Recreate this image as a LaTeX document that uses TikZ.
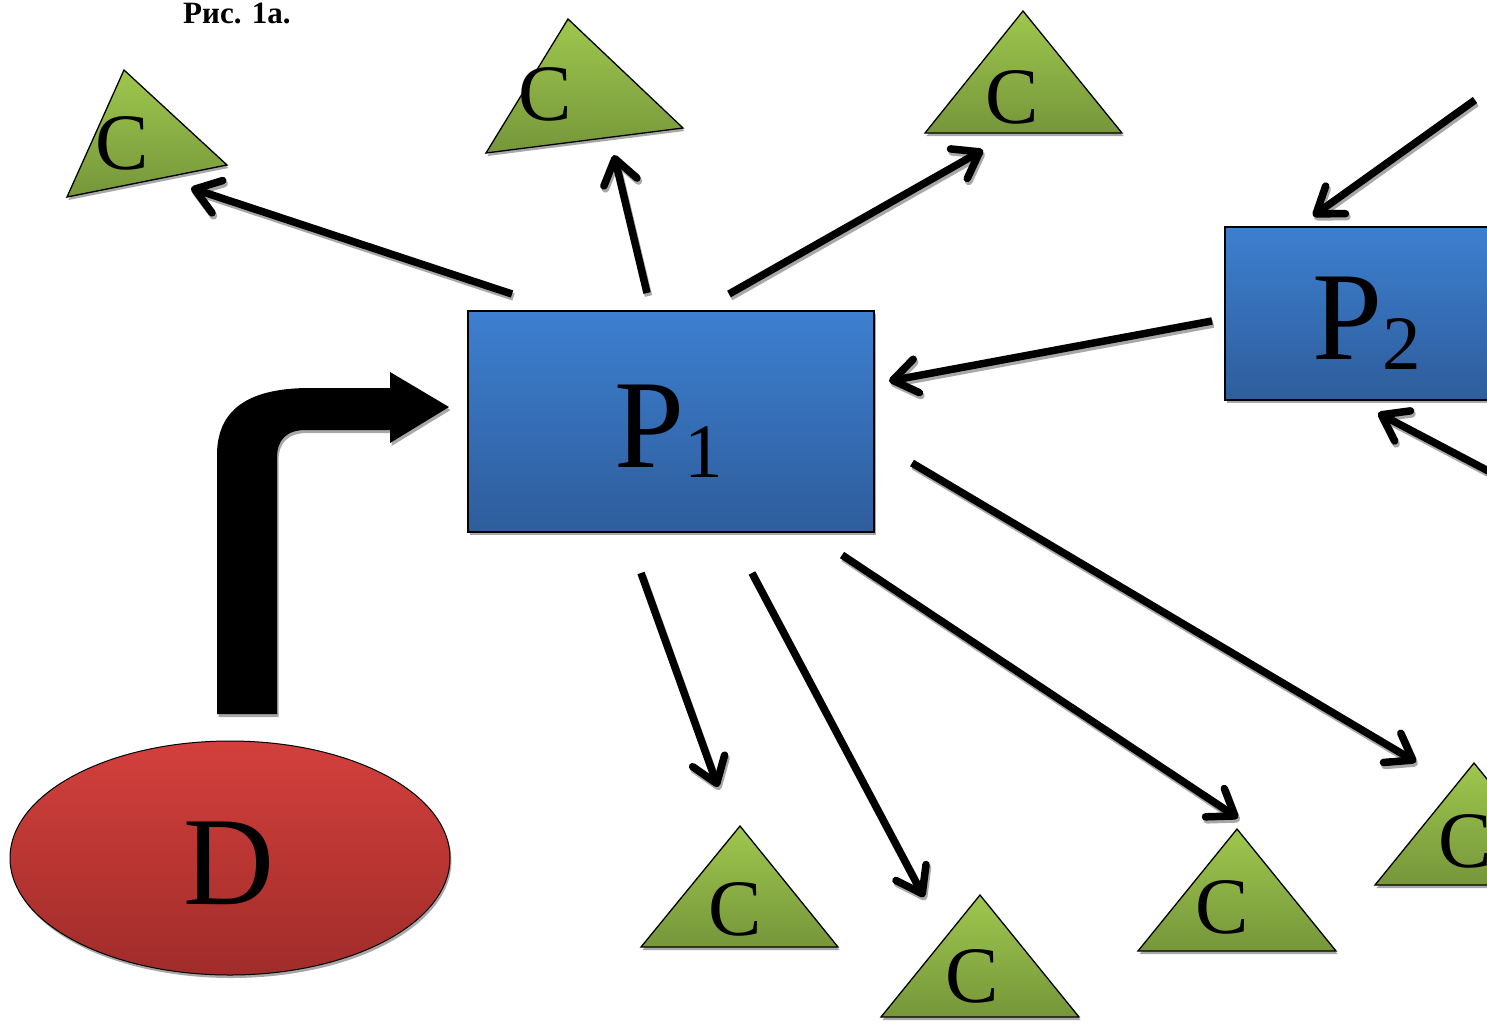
\documentclass[tikz,border=0pt]{standalone}
\usepackage{fontspec}
\setmainfont{Liberation Serif}
\usetikzlibrary{arrows.meta}
\definecolor{trtop}{HTML}{9EC74E}
\definecolor{trbot}{HTML}{76963A}
\definecolor{bltop}{HTML}{3D7FD0}
\definecolor{blbot}{HTML}{2E5D9B}
\definecolor{rdtop}{HTML}{D3403C}
\definecolor{rdbot}{HTML}{A02C2A}
\definecolor{shd}{HTML}{A8A8A8}
\begin{document}
\begin{tikzpicture}[x=1pt,y=-1pt,
  tri/.style={draw=black, line width=1.3pt, line join=miter, top color=trtop, bottom color=trbot},
  trishadow/.style={fill=shd, transform canvas={shift={(1.5pt,-3pt)}}},
  clab/.style={inner sep=0pt, font=\fontsize{80}{80}\selectfont},
  bigl/.style={inner sep=0pt, font=\fontsize{126}{126}\selectfont},
  boxsty/.style={draw=black, line width=1.5pt, top color=bltop, bottom color=blbot, inner sep=0pt},
  arr/.style={line width=7.5pt, -{Straight Barb[length=24pt,width=34pt,round]}},
  arrshadow/.style={arr, draw=shd, transform canvas={shift={(1.5pt,-3pt)}}},
]
\clip (0,0) rectangle (1487,1026);
\fill[white] (0,0) rectangle (1487,1026);

% title
\node[anchor=base west, inner sep=0pt, font=\bfseries\fontsize{31}{31}\selectfont] (title) at (183,23) {Рис. 1а.};

% triangles
\newcommand\mytri[5]{%
  \fill[trishadow] #2 -- #3 -- #4 -- cycle;
  \path[tri] #2 -- #3 -- #4 -- cycle;
  \node[clab] (#1) at #5 {C};
}
\mytri{c1}{(67,197)}{(124,70)}{(227,165)}{(122,143)}
\mytri{c2}{(486,153)}{(568,19)}{(683,128)}{(545,94)}
\mytri{c3}{(925,133)}{(1023,11)}{(1122,133)}{(1012,97)}
\mytri{c4}{(641,947)}{(740,826)}{(838,947)}{(735,909)}
\mytri{c5}{(881,1017)}{(980,895)}{(1079,1017)}{(972,976)}
\mytri{c6}{(1138,951)}{(1237,829)}{(1336,951)}{(1222,907)}
\mytri{c7}{(1375,885)}{(1474,763)}{(1573,885)}{(1465,841)}

% boxes
\fill[shd, transform canvas={shift={(1.5pt,-3pt)}}] (468,311) rectangle (874,532);
\node[boxsty, minimum width=406pt, minimum height=221pt] (p1) at (671,421.5) {};
\node[bigl, anchor=base west] (p1lab) at (614,467) {P\raisebox{-10pt}{\fontsize{77}{77}\selectfont 1}};

\fill[shd, transform canvas={shift={(1.5pt,-3pt)}}] (1225,227) rectangle (1530,400);
\node[boxsty, minimum width=305pt, minimum height=173pt] (p2) at (1377.5,313.5) {};
\node[bigl, anchor=base west] (p2lab) at (1312,359) {P\raisebox{-10pt}{\fontsize{77}{77}\selectfont 2}};

% ellipse D
\fill[shd, transform canvas={shift={(1.5pt,-3pt)}}] (230,858) ellipse [x radius=220, y radius=117];
\path[draw=black, line width=1pt, top color=rdtop, bottom color=rdbot] (230,858) ellipse [x radius=220, y radius=117];
\node[bigl, anchor=base] (d) at (229,904) {D};

% bent arrow
\newcommand\bentpath{(217,714) -- (217,455) .. controls (217,405) and (255,388) .. (310,388) -- (390,388) -- (390,372) -- (449,407) -- (390,443) -- (390,430) -- (306,430) .. controls (286,430) and (277,440) .. (277,458) -- (277,714) -- cycle}
\fill[shd, transform canvas={shift={(1.5pt,-3pt)}}] \bentpath;
\fill[black] \bentpath;

% arrow end points
\coordinate (a1s) at (512,294);  \coordinate (a1e) at (191,188);
\coordinate (a2s) at (647,293);  \coordinate (a2e) at (614,155);
\coordinate (a3s) at (729,294);  \coordinate (a3e) at (983,150);
\coordinate (a4s) at (1212,321); \coordinate (a4e) at (889,381);
\coordinate (a5s) at (1475,100); \coordinate (a5e) at (1313,216);
\coordinate (a6s) at (1515,485); \coordinate (a6e) at (1378,413);
\coordinate (a7s) at (641,573);  \coordinate (a7e) at (718,787);
\coordinate (a8s) at (752,573);  \coordinate (a8e) at (924,897);
\coordinate (a9s) at (842,555);  \coordinate (a9e) at (1238,818);
\coordinate (a10s) at (912,463); \coordinate (a10e) at (1416,762);

\foreach \i in {1,...,10} {
  \draw[arrshadow] (a\i s) -- (a\i e);
}
\foreach \i in {1,...,10} {
  \draw[arr] (a\i s) -- (a\i e);
}
\end{tikzpicture}
\end{document}
